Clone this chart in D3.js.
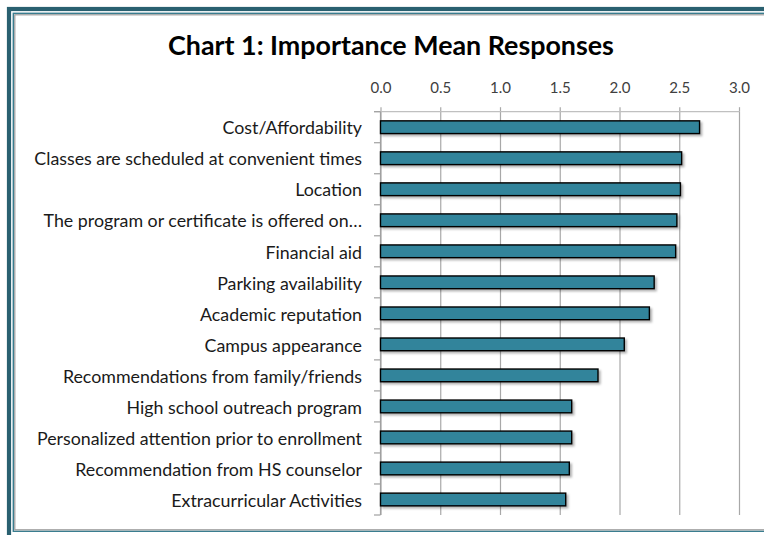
<!DOCTYPE html>
<html>
<head>
<meta charset="utf-8">
<script src="https://cdn.jsdelivr.net/npm/d3@7"></script>
<style>
html,body{margin:0;padding:0;background:#fff;}
svg{display:block;}
</style>
</head>
<body>
<script>
const categories = [
  "Cost/Affordability",
  "Classes are scheduled at convenient times",
  "Location",
  "The program or certificate is offered on…",
  "Financial aid",
  "Parking availability",
  "Academic reputation",
  "Campus appearance",
  "Recommendations from family/friends",
  "High school outreach program",
  "Personalized attention prior to enrollment",
  "Recommendation from HS counselor",
  "Extracurricular Activities"
];
const values = [2.67, 2.52, 2.51, 2.48, 2.47, 2.29, 2.25, 2.04, 1.82, 1.60, 1.60, 1.58, 1.55];
const tickValues = [0, 0.5, 1.0, 1.5, 2.0, 2.5, 3.0];
const title = "Chart 1: Importance Mean Responses";

const W = 764, H = 535;
const svg = d3.select("body").append("svg").attr("width", W).attr("height", H);

const defs = svg.append("defs");
const f = defs.append("filter").attr("id","shadow").attr("x","-5%").attr("y","-50%").attr("width","115%").attr("height","250%");
f.append("feDropShadow").attr("dx",2).attr("dy",2).attr("stdDeviation",1.3)
  .attr("flood-color","#000").attr("flood-opacity",0.3);

// frame
svg.append("rect").attr("x",9).attr("y",9).attr("width",900).attr("height",700)
  .attr("fill","none").attr("stroke","#2a6070").attr("stroke-width",4.2);
svg.append("rect").attr("x",13.3).attr("y",13.3).attr("width",900).attr("height",531.3-13.3)
  .attr("fill","none").attr("stroke","#3a7d8f").attr("stroke-width",1.4);
svg.append("rect").attr("x",14.8).attr("y",14.8).attr("width",900).attr("height",529.8-14.8)
  .attr("fill","none").attr("stroke","#9a9a9a").attr("stroke-width",1.2);

const x0 = 380.5, x1 = 739, yTop = 111.7, yBot = 515;
const x = d3.scaleLinear().domain([0, 3]).range([x0, x1]);
const y = d3.scaleBand().domain(categories).range([yTop, yBot]).paddingInner(0.59).paddingOuter(0.295);

// title
const t = svg.append("text").attr("x", 391).attr("y", 55).attr("text-anchor","middle")
  .attr("font-family","Lato, 'Open Sans', sans-serif").attr("font-weight","bold")
  .attr("font-size",24).attr("fill","#000").text(title);
const tw = t.node().getComputedTextLength();
t.attr("font-size", 24 * 446 / tw);

// gridlines
const grid = svg.append("g").attr("transform",`translate(0,${yTop})`)
  .call(d3.axisBottom(x).tickValues(tickValues).tickSize(yBot - yTop).tickFormat(""));
grid.select(".domain").remove();
grid.selectAll("line").attr("stroke","#a8a8a8").attr("stroke-width",1.2);

// top axis
const xa = svg.append("g").attr("transform",`translate(0,${yTop})`)
  .call(d3.axisTop(x).tickValues(tickValues).tickSizeInner(4.5).tickSizeOuter(0).tickPadding(14.5)
    .tickFormat(d3.format(".1f")));
xa.select(".domain").remove();
xa.selectAll("line").attr("stroke","#a8a8a8").attr("stroke-width",1.2);
xa.selectAll("text").attr("font-family","Lato, 'Open Sans', sans-serif").attr("font-size",14).attr("fill","#404040");
let tkW = 0;
xa.selectAll("text").each(function(d,i){ if (i === 0) tkW = this.getComputedTextLength(); });
xa.selectAll("text").attr("font-size", 14 * 21 / tkW);
svg.append("line").attr("x1",374).attr("x2",x1).attr("y1",yTop).attr("y2",yTop)
  .attr("stroke","#c0c0c0").attr("stroke-width",1.2);

// left axis line & boundary ticks
svg.append("line").attr("x1",x0).attr("x2",x0).attr("y1",yTop).attr("y2",yBot)
  .attr("stroke","#a0a0a0").attr("stroke-width",1.2);
const bounds = d3.range(categories.length + 1).map(i => yTop + i * y.step());
svg.append("g").selectAll("line").data(bounds).join("line")
  .attr("x1",374).attr("x2",x0).attr("y1",d=>d).attr("y2",d=>d)
  .attr("stroke","#a0a0a0").attr("stroke-width",1.2);

// category labels
const ya = svg.append("g").attr("transform",`translate(${x0},1.5)`)
  .call(d3.axisLeft(y).tickSize(0).tickPadding(18.5));
ya.select(".domain").remove();
ya.selectAll("text").attr("font-family","Lato, 'Open Sans', sans-serif").attr("font-size",15).attr("fill","#1a1a1a");
let maxW = 0;
ya.selectAll("text").each(function(d){ if (d === categories[1]) maxW = this.getComputedTextLength(); });
ya.selectAll("text").attr("font-size", 15 * 328 / maxW);

// bars
svg.append("g").selectAll("rect").data(values).join("rect")
  .attr("x", x(0))
  .attr("y", (d,i) => y(categories[i]))
  .attr("width", d => x(d) - x(0))
  .attr("height", y.bandwidth())
  .attr("fill","#31849b").attr("stroke","#000").attr("stroke-width",1.4)
  .attr("filter","url(#shadow)");
</script>
</body>
</html>
